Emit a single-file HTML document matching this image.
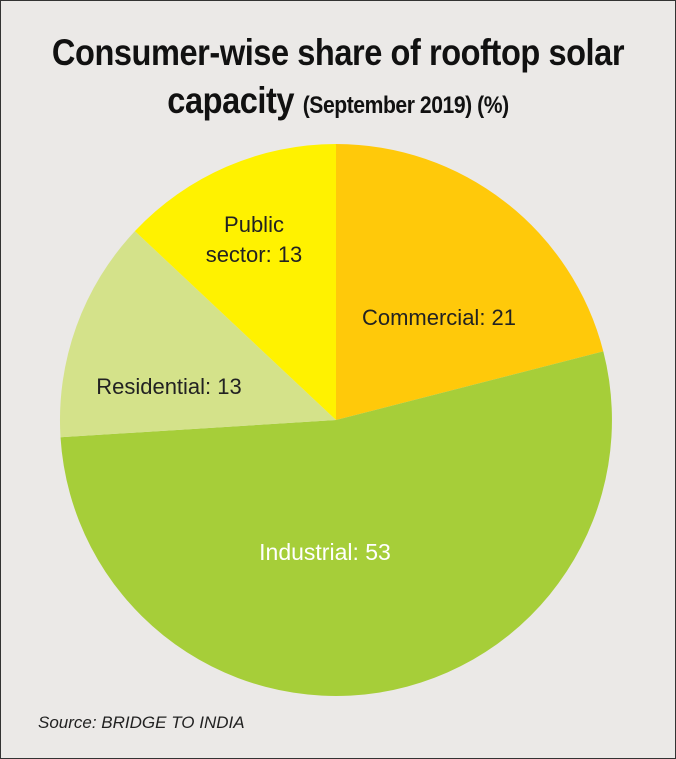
<!DOCTYPE html>
<html><head><meta charset="utf-8"><style>
html,body{margin:0;padding:0;}
body{width:676px;height:759px;background:#ebe9e7;position:relative;overflow:hidden;font-family:"Liberation Sans",sans-serif;}
.frame{position:absolute;left:0;top:0;width:674px;height:757px;border:1px solid #333;}
.t{position:absolute;left:0;width:676px;text-align:center;font-family:"Liberation Sans Narrow","Liberation Sans",sans-serif;font-weight:bold;color:#111;}
</style></head><body>
<div class="frame"></div>
<div class="t" style="top:32px;font-size:37px;letter-spacing:-0.5px;transform:scaleX(0.88);">Consumer-wise share of rooftop solar</div>
<div class="t" style="top:80px;font-size:37px;letter-spacing:-0.5px;transform:scaleX(0.88);">capacity <span style="font-size:24px;">(September 2019) (%)</span></div>
<svg width="676" height="759" style="position:absolute;left:0;top:0">
<path d="M336,420 L336,144 A276,276 0 0 1 603.3,351.4 Z" fill="#ffc90a"/>
<path d="M336,420 L603.3,351.4 A276,276 0 1 1 60.5,437.3 Z" fill="#a6ce39"/>
<path d="M336,420 L60.5,437.3 A276,276 0 0 1 134.9,231.1 Z" fill="#d4e28a"/>
<path d="M336,420 L134.9,231.1 A276,276 0 0 1 336,144 Z" fill="#fff200"/>
<g font-family="Liberation Sans Narrow, Liberation Sans, sans-serif" font-size="22" fill="#222" text-anchor="middle">
<text x="439" y="325">Commercial: 21</text>
<text x="169" y="394">Residential: 13</text>
<text x="254" y="232">Public</text>
<text x="254" y="262">sector: 13</text>
<text x="325" y="560" fill="#fff" font-size="23">Industrial: 53</text>
</g>
<text x="38" y="728" font-family="Liberation Sans Narrow, Liberation Sans, sans-serif" font-style="italic" font-size="17" fill="#222">Source: BRIDGE TO INDIA</text>
</svg>
</body></html>
